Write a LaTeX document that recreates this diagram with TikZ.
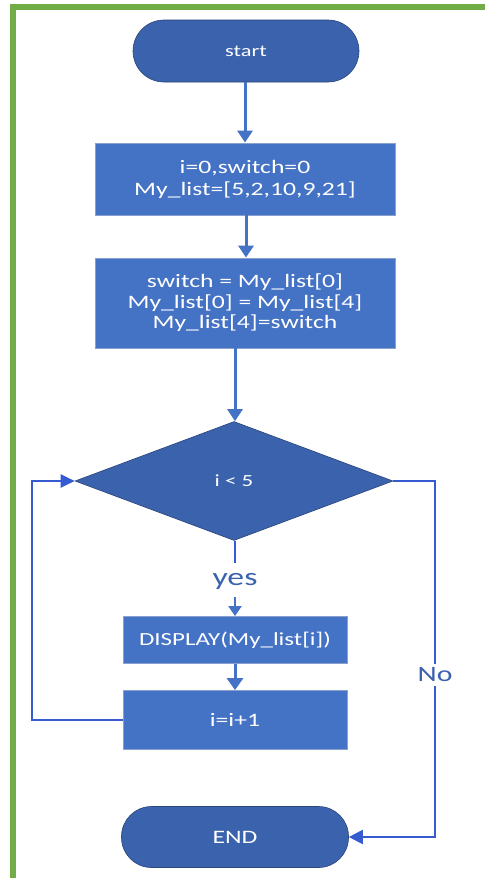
\documentclass[tikz,border=0pt]{standalone}
\usepackage{fontspec}
\setmainfont{Carlito}[FakeStretch=1.35]
\usetikzlibrary{arrows.meta,shapes.geometric}
\definecolor{obl}{HTML}{4472C4}
\definecolor{obd}{HTML}{3A62AD}
\definecolor{ogr}{HTML}{70AD47}
\newcommand{\fsz}[2]{\fontsize{#1}{#2}\selectfont}
\begin{document}
\begin{tikzpicture}[x=1pt,y=-1pt,
  proc/.style={draw=obd!60!white,line width=0.8pt,fill=obl,text=white,inner sep=0pt,align=center},
  term/.style={proc,fill=obd,draw=obd!70!black,line width=0.6pt},
  cond/.style={diamond,fill=obd,draw=obd!70!black,line width=0.6pt,text=white,inner sep=0pt,minimum width=318pt,minimum height=119pt},
  conn/.style={draw=obl,line width=3pt,-{Triangle[width=15pt,length=12pt]}},
  loopl/.style={draw=obl!80!blue,line width=2pt},
  lbl/.style={text=obd,fill=white,inner sep=1pt}]
\useasboundingbox (0,0) rectangle (485,878);
% green frame
\fill[ogr] (10,4) rectangle (485,10);
\fill[ogr] (10,4) rectangle (16,878);
% nodes
\node[term,rounded corners=31pt,minimum width=226pt,minimum height=62pt,font=\fsz{16.5}{18}] (start) at (246,51) {start};
\node[proc,minimum width=300pt,minimum height=72pt,font=\fsz{19}{22}] (b1) at (245,179) {i=0,switch=0\\My\_list=[5,2,10,9,21]};
\node[proc,minimum width=300pt,minimum height=90pt,font=\fsz{19}{20.5}] (b2) at (245,303) {switch = My\_list[0]\\My\_list[0] = My\_list[4]\\My\_list[4]=switch};
\node[cond,font=\fsz{17}{19}] (d) at (234,481) {i < 5};
\node[proc,minimum width=224pt,minimum height=47pt,font=\fsz{18.5}{20}] (b3) at (235,640) {DISPLAY(My\_list[i])};
\node[proc,minimum width=224pt,minimum height=59pt,font=\fsz{19}{21}] (b4) at (235,720) {i=i+1};
\node[term,rounded corners=30pt,minimum width=227pt,minimum height=61pt,font=\fsz{19}{21}] (end) at (235,837) {END};
\coordinate (yesc) at (235,581);
\coordinate (lc) at (32,481);
\coordinate (rc) at (435,481);
% connectors
\draw[conn] (start.south -| 245,0) -- (b1.north -| 245,0);
\draw[conn] (b1.south -| 246,0) -- (b2.north -| 246,0);
\draw[conn] (b2.south -| 235,0) -- (d.north -| 235,0);
\draw[loopl] (d.south -| 235,0) -- (235,563);
\node[lbl,fill=none,font=\fsz{25}{27}] (yes) at (yesc) {yes};
\draw[conn,line width=2pt,-{Triangle[width=13pt,length=10pt]}] (235,597) -- (b3.north);
\draw[conn,-{Triangle[width=16pt,length=12pt]}] (b3.south) -- (b4.north);
\draw[loopl,-{Triangle[width=13pt,length=14pt]}] (b4.west) -| (lc) -- (d.west);
\draw[loopl,-{Triangle[width=14pt,length=14pt]}] (d.east) -- (rc) |- (end.east);
\node[lbl,font=\fsz{22}{24},inner ysep=4pt] (no) at (435,675) {No};
\end{tikzpicture}
\end{document}
